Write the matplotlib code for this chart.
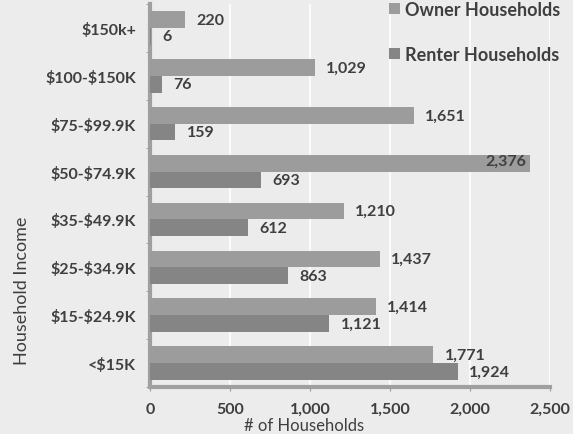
import matplotlib.pyplot as plt
import numpy as np

categories = ["<$15K", "$15-$24.9K", "$25-$34.9K", "$35-$49.9K",
              "$50-$74.9K", "$75-$99.9K", "$100-$150K", "$150k+"]
owner = [1771, 1414, 1437, 1210, 2376, 1651, 1029, 220]
renter = [1924, 1121, 863, 612, 693, 159, 76, 6]
x_ticks = [0, 500, 1000, 1500, 2000, 2500]

plt.rcParams["font.family"] = ["Lato", "DejaVu Sans"]
text_color = "#3f3f3f"
bg = "#ececec"

fig = plt.figure(figsize=(5.73, 4.35), dpi=100, facecolor=bg)
ax = fig.add_axes([150 / 573, 1 - 388 / 435, 400 / 573, 383 / 435])
ax.set_facecolor(bg)

y = np.arange(len(categories))
h = 0.35
owner_bars = ax.barh(y + h / 2, owner, height=h, color="#9c9c9c",
                     label="Owner Households", zorder=3)
renter_bars = ax.barh(y - h / 2, renter, height=h, color="#858585",
                      label="Renter Households", zorder=3)

# value labels
for bars, vals in ((owner_bars, owner), (renter_bars, renter)):
    for b, v in zip(bars, vals):
        yc = b.get_y() + b.get_height() / 2
        if v > 2200:
            ax.annotate(f"{v:,}", (v, yc + 0.05), xytext=(-3, 0),
                        textcoords="offset points", ha="right", va="center",
                        fontsize=11.5, fontweight="bold", color=text_color, zorder=4)
        else:
            ax.annotate(f"{v:,}", (v, yc), xytext=(8, 0),
                        textcoords="offset points", ha="left", va="center",
                        fontsize=11.5, fontweight="bold", color=text_color, zorder=4)

ax.set_xlim(0, 2500)
ax.set_ylim(-0.5, len(categories) - 0.5)
ax.set_xticks(x_ticks)
ax.set_xticklabels([f"{t:,}" for t in x_ticks])
ax.set_yticks(y)
ax.set_yticklabels([c.replace("$", r"\$") for c in categories])
ax.set_yticks(np.arange(len(categories) + 1) - 0.5, minor=True)

ax.tick_params(axis="x", labelsize=11.5, colors=text_color, length=3, pad=8,
               color="#999999")
ax.tick_params(axis="y", which="major", labelsize=11.5, colors=text_color,
               length=0, pad=10)
ax.tick_params(axis="y", which="minor", length=3, color="#999999")
for lab in ax.get_xticklabels() + ax.get_yticklabels():
    lab.set_fontweight("bold")

ax.grid(axis="x", color="white", linewidth=1.2, zorder=0)
for side in ("top", "right"):
    ax.spines[side].set_visible(False)
for side in ("left", "bottom"):
    ax.spines[side].set_color("#a0a0a0")
    ax.spines[side].set_linewidth(3)

ax.set_xlabel("# of Households", fontsize=12, color=text_color)
ax.xaxis.set_label_coords(0.385, -0.078)
ax.set_ylabel("Household Income", fontsize=13, color=text_color)
ax.yaxis.set_label_coords(-0.30, 0.255)

ax.legend(loc="upper left", bbox_to_anchor=(380 / 573, 1.016),
          bbox_transform=fig.transFigure, frameon=False,
          prop={"weight": "bold", "size": 13}, labelcolor=text_color,
          handlelength=0.6, handleheight=0.6, handletextpad=0.3,
          labelspacing=1.55, borderpad=0)

fig.savefig("out.png", dpi=100, facecolor=bg)
